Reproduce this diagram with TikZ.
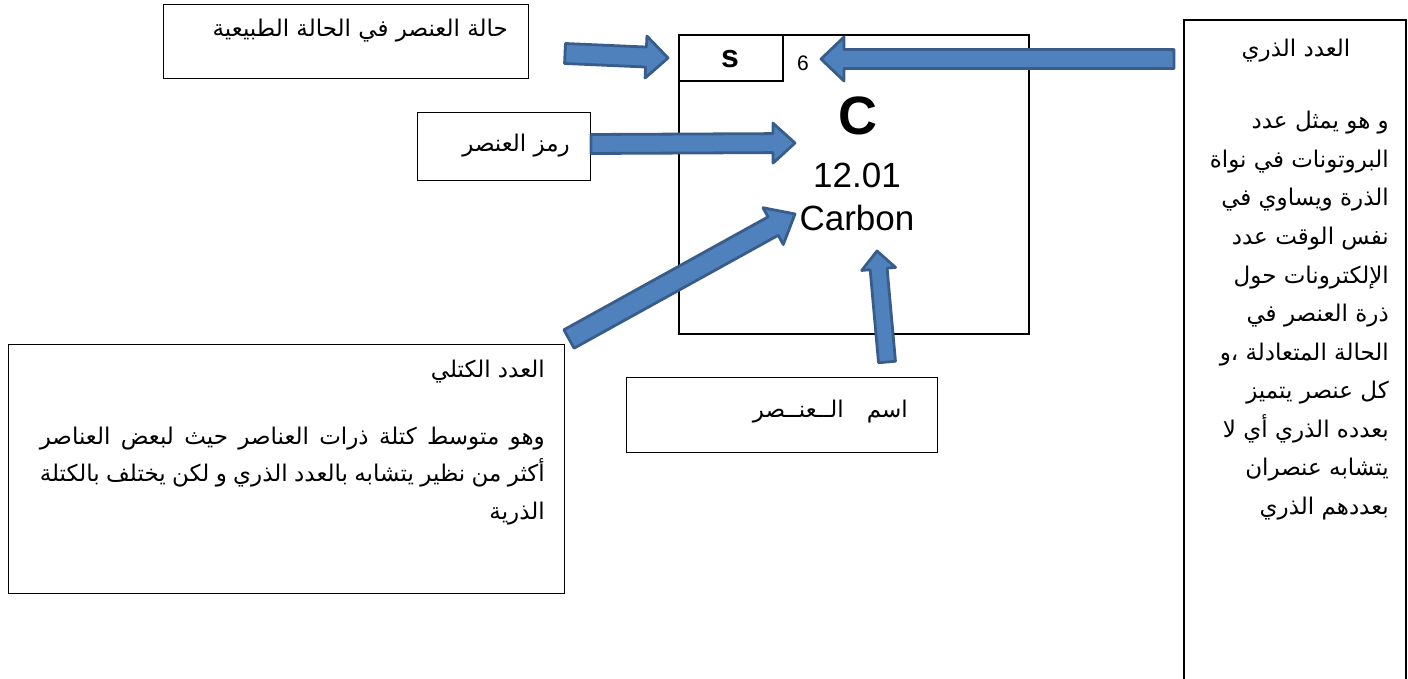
\documentclass[tikz,border=0pt]{standalone}
\usepackage{fontspec}
\setmainfont{Liberation Sans}
\newfontfamily\arabicfont[Script=Arabic]{DejaVu Sans}
\TeXXeTstate=1
\usetikzlibrary{calc}
\definecolor{arrfill}{RGB}{79,129,189}
\definecolor{arrline}{RGB}{56,93,138}
\newcommand\ar[1]{\beginR #1\endR}
\newcommand\blockarrow[5]{%
  \coordinate (ba-c) at ($(#2)!#5!(#1)$);
  \filldraw[blockarr] ($(#1)!#3!90:(#2)$) -- ($(ba-c)!#3!90:(#2)$) -- ($(ba-c)!#4!90:(#2)$) -- (#2)
    -- ($(ba-c)!#4!-90:(#2)$) -- ($(ba-c)!#3!-90:(#2)$) -- ($(#1)!#3!-90:(#2)$) -- cycle;}
\tikzset{
  box/.style={draw=black, line width=1.3pt, inner sep=0pt, anchor=north west},
  artext/.style={font=\arabicfont\fontsize{23}{27}\selectfont, inner sep=0pt, anchor=base east},
  blockarr/.style={fill=arrfill, draw=arrline, line width=2.8pt, line join=round},
  lat/.style={inner sep=0pt, anchor=base}
}
\begin{document}
\begin{tikzpicture}[x=1pt,y=-1pt]
\useasboundingbox (0,0) rectangle (1408,679);
% boxes
\node[box, minimum width=365pt, minimum height=74pt] (state) at (163,4) {};
\node[box, minimum width=173pt, minimum height=68pt] (symb) at (417,112) {};
\node[box, minimum width=311pt, minimum height=75pt] (name) at (626,377) {};
\node[box, minimum width=556pt, minimum height=249pt] (mass) at (8,344) {};
\draw[line width=1.3pt] (1184,700) -- (1184,20) -- (1406,20) -- (1406,700);
\coordinate (atomic) at (1184,59);
% element tile
\node[box, line width=1.8pt, minimum width=350pt, minimum height=299pt] (tile) at (678,34) {};
\node[box, line width=1.8pt, minimum width=104pt, minimum height=46pt] (sbox) at (678,34) {};
\node[lat, font=\bfseries\fontsize{32}{36}\selectfont] (s) at (730,68) {s};
\node[lat, font=\fontsize{21}{24}\selectfont] (six) at (803,71) {6};
\node[lat, font=\bfseries\fontsize{54}{60}\selectfont] (C) at (858,135) {C};
\node[lat, font=\fontsize{35}{40}\selectfont] (mw) at (857,188) {12.01};
\node[lat, font=\fontsize{35}{40}\selectfont] (carbon) at (857,230) {Carbon};
% texts
\node[artext] (tstate) at (508,37) {\ar{حالة العنصر في الحالة الطبيعية}};
\node[artext] (tsymb) at (570,152) {\ar{رمز العنصر}};
\node[artext] (tname) at (908,417) {\ar{اسم\quad الــعنــصر}};
\node[artext, anchor=base] (tatomic) at (1296,57) {\ar{العدد الذري}};
\foreach \t [count=\i] in {و هو يمثل عدد,البروتونات في نواة,الذرة ويساوي في,نفس الوقت عدد,الإلكترونات حول,ذرة العنصر في,الحالة المتعادلة ،و,كل عنصر يتميز,بعدده الذري أي لا,يتشابه عنصران,بعددهم الذري}
  \node[artext] (ra\i) at (1389,{129+38.5*(\i-1)}) {\ar{\t}};
\node[artext] (tmass) at (545,377) {\ar{العدد الكتلي}};
\node[artext] (m1) at (545,444) {\hbox to 505pt{\ar{وهو متوسط كتلة ذرات العناصر حيث لبعض العناصر}}};
\node[artext] (m2) at (545,481) {\hbox to 505pt{\ar{أكثر من نظير يتشابه بالعدد الذري و لكن يختلف بالكتلة}}};
\node[artext] (m3) at (545,519) {\ar{الذرية}};
% arrow coordinates
\coordinate (a1t) at (565,53.5); \coordinate (a1h) at (668,58);
\coordinate (a2t) at (1174,59);  \coordinate (a2h) at (821,59);
\coordinate (a3t) at (591,144);  \coordinate (a3h) at (795,143);
\coordinate (a4t) at (569,339);  \coordinate (a4h) at (795,214);
\coordinate (a5t) at (887,362);  \coordinate (a5h) at (877,251);
\blockarrow{a1t}{a1h}{10pt}{21pt}{22pt}
\blockarrow{a2t}{a2h}{9.5pt}{22pt}{23pt}
\blockarrow{a3t}{a3h}{9.5pt}{20pt}{22pt}
\blockarrow{a4t}{a4h}{10.5pt}{21pt}{25pt}
\blockarrow{a5t}{a5h}{8.5pt}{17pt}{18pt}
\end{tikzpicture}
\end{document}
